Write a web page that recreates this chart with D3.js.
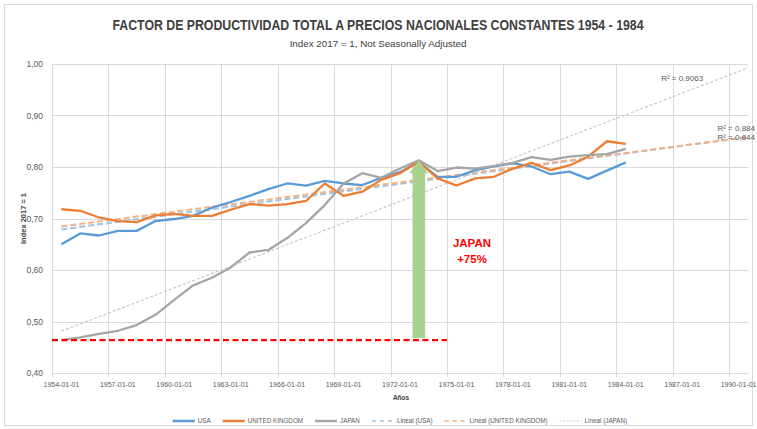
<!DOCTYPE html>
<html>
<head>
<meta charset="utf-8">
<script src="https://cdn.jsdelivr.net/npm/d3@7"></script>
<style>
  body { margin: 0; background: #fff; }
  text { font-family: "Liberation Sans", Arial, sans-serif; }
</style>
</head>
<body>
<svg></svg>
<script>
var width = 757;
var height = 429;

// categorias del eje (una por año)
var years = [1954, 1955, 1956, 1957, 1958, 1959, 1960, 1961, 1962, 1963,
    1964, 1965, 1966, 1967, 1968, 1969, 1970, 1971, 1972, 1973,
    1974, 1975, 1976, 1977, 1978, 1979, 1980, 1981, 1982, 1983,
    1984, 1985, 1986, 1987, 1988, 1989, 1990];

var usa = [0.650, 0.671, 0.667, 0.676, 0.676, 0.695, 0.699, 0.705, 0.721, 0.732,
    0.744, 0.757, 0.768, 0.764, 0.773, 0.768, 0.765, 0.779, 0.790, 0.810,
    0.781, 0.781, 0.794, 0.801, 0.807, 0.801, 0.786, 0.791, 0.777, 0.793,
    0.809];

var uk = [0.718, 0.715, 0.702, 0.695, 0.693, 0.706, 0.709, 0.705, 0.705, 0.717,
    0.728, 0.725, 0.728, 0.734, 0.768, 0.744, 0.752, 0.775, 0.788, 0.810,
    0.778, 0.764, 0.778, 0.781, 0.797, 0.808, 0.794, 0.803, 0.820, 0.850,
    0.845];

var japan = [0.464, 0.469, 0.476, 0.482, 0.493, 0.513, 0.542, 0.570, 0.585, 0.605,
    0.634, 0.639, 0.662, 0.691, 0.726, 0.768, 0.788, 0.779, 0.797, 0.813,
    0.792, 0.799, 0.797, 0.802, 0.808, 0.819, 0.814, 0.820, 0.823, 0.825,
    0.835];

var yTicks = [0.40, 0.50, 0.60, 0.70, 0.80, 0.90, 1.00];
var r2Labels = ["R² = 0,884", "R² = 0,844", "R² = 0,9063"];

var svg = d3.select('svg')
    .attr('width', width)
    .attr('height', height);

var grid = '#d9d9d9';
var labelColor = '#595959';

// borde del grafico
svg.append('rect')
    .attr('x', 4.5).attr('y', 4.5)
    .attr('width', 748).attr('height', 421)
    .attr('fill', '#fff')
    .attr('stroke', '#d9d9d9');

var cats = years.map(function (d) { return d + '-01-01'; });

var x = d3.scaleBand()
    .domain(cats)
    .range([52, 748])
    .padding(0);

var y = d3.scaleLinear()
    .domain([0.4, 1.0])
    .range([373, 64]);

// posicion por indice (centro de la categoria)
var xi = function (i) {
    return x.range()[0] + (i + 0.5) * x.bandwidth();
};

var comma = d3.formatLocale({ decimal: ',', thousands: '.', grouping: [3], currency: ['', ''] });
var fmt = comma.format('.2f');

// lineas horizontales
svg.append('g')
    .selectAll('line')
    .data(yTicks)
    .enter()
    .append('line')
    .attr('x1', 52).attr('x2', 748)
    .attr('y1', function (d) { return Math.round(y(d)) + 0.5; })
    .attr('y2', function (d) { return Math.round(y(d)) + 0.5; })
    .attr('stroke', grid);

// lineas verticales cada 3 años
var tickCats = cats.filter(function (d, i) { return i % 3 === 0; });

svg.append('g')
    .selectAll('line')
    .data(tickCats)
    .enter()
    .append('line')
    .attr('x1', function (d) { return Math.round(x(d)) + 0.5; })
    .attr('x2', function (d) { return Math.round(x(d)) + 0.5; })
    .attr('y1', 64)
    .attr('y2', 377)
    .attr('stroke', grid);

// etiquetas eje y
svg.append('g')
    .selectAll('text')
    .data(yTicks)
    .enter()
    .append('text')
    .attr('x', 43)
    .attr('y', function (d) { return y(d) + 3; })
    .attr('text-anchor', 'end')
    .attr('font-size', 8.5)
    .attr('fill', labelColor)
    .text(function (d) { return fmt(d); });

// etiquetas eje x
svg.append('g')
    .selectAll('text')
    .data(tickCats)
    .enter()
    .append('text')
    .attr('x', function (d) { return x(d) + x.bandwidth() / 2; })
    .attr('y', 387)
    .attr('text-anchor', 'middle')
    .attr('font-size', 7)
    .attr('fill', labelColor)
    .text(function (d) { return d; });

// titulos
svg.append('text')
    .attr('x', 378).attr('y', 30)
    .attr('text-anchor', 'middle')
    .attr('font-size', 14)
    .attr('font-weight', 'bold')
    .attr('fill', '#404040')
    .attr('textLength', 531)
    .attr('lengthAdjust', 'spacingAndGlyphs')
    .text('FACTOR DE PRODUCTIVIDAD TOTAL A PRECIOS NACIONALES CONSTANTES 1954 - 1984');

svg.append('text')
    .attr('x', 378).attr('y', 47)
    .attr('text-anchor', 'middle')
    .attr('font-size', 9.8)
    .attr('fill', '#404040')
    .text('Index 2017 = 1, Not Seasonally Adjusted');

svg.append('text')
    .attr('transform', 'translate(26,' + y(0.7) + ') rotate(-90)')
    .attr('text-anchor', 'middle')
    .attr('font-size', 7.5)
    .attr('font-weight', 'bold')
    .attr('fill', '#404040')
    .text('Index 2017 = 1');

svg.append('text')
    .attr('x', 401).attr('y', 400)
    .attr('text-anchor', 'middle')
    .attr('font-size', 6.5)
    .attr('font-weight', 'bold')
    .attr('fill', '#404040')
    .text('Años');

// tendencias lineales (minimos cuadrados)
var fit = function (vals) {
    var mx = d3.mean(vals, function (d, i) { return i; });
    var my = d3.mean(vals);
    var sxy = d3.sum(vals, function (d, i) { return (i - mx) * (d - my); });
    var sxx = d3.sum(vals, function (d, i) { return (i - mx) * (i - mx); });
    var b = sxy / sxx;
    var a = my - b * mx;
    return function (i) { return a + b * i; };
};

var lastI = years.length - 0.5;

var series = [
    { name: 'USA', vals: usa, color: '#5b9bd5', trend: '#9dc3e6', tw: 2, dash: '6,3' },
    { name: 'UNITED KINGDOM', vals: uk, color: '#ed7d31', trend: '#f4b183', tw: 2, dash: '6,3' },
    { name: 'JAPAN', vals: japan, color: '#a5a5a5', trend: '#c8c8c8', tw: 1.2, dash: '3,2' }
];

var trendLine = d3.line()
    .x(function (d) { return xi(d[0]); })
    .y(function (d) { return y(d[1]); });

series.forEach(function (s) {
    var f = fit(s.vals);
    s.f = f;
    svg.append('path')
        .datum([[0, f(0)], [lastI, f(lastI)]])
        .attr('d', trendLine)
        .attr('fill', 'none')
        .attr('stroke', s.trend)
        .attr('stroke-width', s.tw)
        .attr('stroke-dasharray', s.dash);
});

var line = d3.line()
    .x(function (d, i) { return xi(i); })
    .y(function (d) { return y(d); });

series.forEach(function (s) {
    svg.append('path')
        .datum(s.vals)
        .attr('d', line)
        .attr('fill', 'none')
        .attr('stroke', s.color)
        .attr('stroke-width', 2.3)
        .attr('stroke-linejoin', 'round');
});

// etiquetas R2
svg.append('text')
    .attr('x', 755).attr('y', y(series[1].f(lastI)) - 6)
    .attr('text-anchor', 'end')
    .attr('font-size', 8)
    .attr('fill', labelColor)
    .text(r2Labels[0]);

svg.append('text')
    .attr('x', 755).attr('y', y(series[1].f(lastI)) + 3)
    .attr('text-anchor', 'end')
    .attr('font-size', 8)
    .attr('fill', labelColor)
    .text(r2Labels[1]);

svg.append('text')
    .attr('x', xi(33)).attr('y', y(series[2].f(33)) - 12)
    .attr('text-anchor', 'middle')
    .attr('font-size', 8)
    .attr('fill', labelColor)
    .text(r2Labels[2]);

// linea roja base Japon 1954
svg.append('line')
    .attr('x1', 52)
    .attr('x2', xi(20.5))
    .attr('y1', y(japan[0]))
    .attr('y2', y(japan[0]))
    .attr('stroke', '#ff0000')
    .attr('stroke-width', 2.3)
    .attr('stroke-dasharray', '6,3.5');

// flecha verde
var peak = 19;
var ax = xi(peak);
var yb = y(japan[0]) - 2;
var yt = y(japan[peak]);
var sw = 6.3, hw = 9.5, hl = 13;
svg.append('path')
    .attr('d', d3.line()([
        [ax - sw, yb], [ax - sw, yt + hl], [ax - hw, yt + hl], [ax, yt],
        [ax + hw, yt + hl], [ax + sw, yt + hl], [ax + sw, yb]
    ]) + 'Z')
    .attr('fill', '#a9d18e');

svg.append('text')
    .attr('x', 472).attr('y', 247)
    .attr('text-anchor', 'middle')
    .attr('font-size', 11.5)
    .attr('font-weight', 'bold')
    .attr('fill', '#ff0000')
    .text('JAPAN');

svg.append('text')
    .attr('x', 472).attr('y', 263)
    .attr('text-anchor', 'middle')
    .attr('font-size', 11.5)
    .attr('font-weight', 'bold')
    .attr('fill', '#ff0000')
    .text('+75%');

// leyenda
var legendItems = [
    { label: 'USA', color: '#5b9bd5', w: 2.5, dash: null },
    { label: 'UNITED KINGDOM', color: '#ed7d31', w: 2.5, dash: null },
    { label: 'JAPAN', color: '#a5a5a5', w: 2.5, dash: null },
    { label: 'Lineal (USA)', color: '#9dc3e6', w: 1.5, dash: '4,4' },
    { label: 'Lineal (UNITED KINGDOM)', color: '#f4b183', w: 1.5, dash: '4,4' },
    { label: 'Lineal (JAPAN)', color: '#c8c8c8', w: 1, dash: '2,1.5' }
];

var legend = svg.append('g');
var lx = 0;
legendItems.forEach(function (d) {
    var g = legend.append('g').attr('transform', 'translate(' + lx + ',0)');
    g.append('line')
        .attr('x1', 0).attr('x2', 22)
        .attr('y1', 0).attr('y2', 0)
        .attr('stroke', d.color)
        .attr('stroke-width', d.w)
        .attr('stroke-dasharray', d.dash);
    var t = g.append('text')
        .attr('x', 25).attr('y', 2.2)
        .attr('font-size', 6.3)
        .attr('fill', labelColor)
        .text(d.label);
    lx += 25 + t.node().getComputedTextLength() + 12;
});
lx -= 12;
legend.attr('transform', 'translate(' + (400 - lx / 2) + ',421)');

</script>
</body>
</html>
